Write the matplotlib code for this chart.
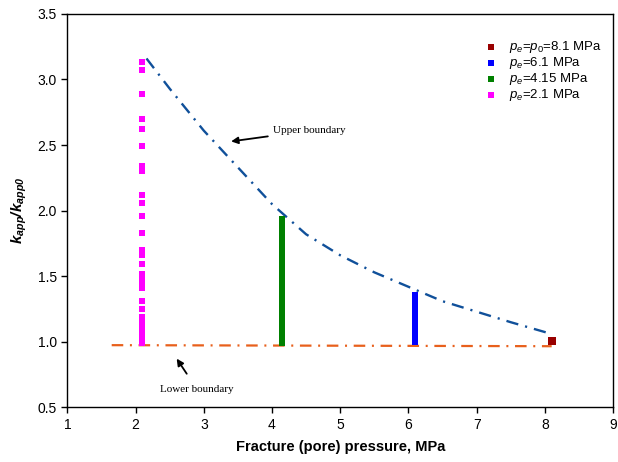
import numpy as np
import matplotlib
matplotlib.use('Agg')
import matplotlib.pyplot as plt

plt.rcParams['font.family'] = ['Liberation Sans', 'DejaVu Sans']
plt.rcParams['mathtext.fontset'] = 'custom'
plt.rcParams['mathtext.it'] = 'Liberation Sans:italic'
plt.rcParams['mathtext.bf'] = 'Liberation Sans:bold:italic'
plt.rcParams['mathtext.rm'] = 'Liberation Sans'

#=======================================================================================
# Data
#=======================================================================================

upper_x = [2.16, 2.5, 3.0, 3.5, 4.0, 4.5, 5.0, 5.5, 6.0, 6.5, 7.0, 7.5, 8.1]
upper_y = [3.16, 2.93, 2.61, 2.33, 2.05, 1.82, 1.66, 1.53, 1.42, 1.31, 1.23, 1.15, 1.06]

lower_x = [1.65, 8.1]
lower_y = [0.975, 0.967]

p21_y = [3.13, 3.07, 2.89, 2.70, 2.62, 2.49, 2.34, 2.30, 2.12, 2.06, 1.96, 1.83,
         1.70, 1.66, 1.59, 1.52, 1.48, 1.45, 1.41, 1.31, 1.25, 1.19, 1.16, 1.13,
         1.10, 1.07, 1.04, 1.01, 0.99]
p415_y = [1.94, 1.91, 1.88, 1.85, 1.82, 1.79, 1.76, 1.73, 1.70, 1.67, 1.64, 1.61,
          1.59, 1.56, 1.53, 1.50, 1.46, 1.43, 1.40, 1.37, 1.34, 1.31, 1.28, 1.25,
          1.22, 1.19, 1.16, 1.13, 1.10, 1.07, 1.04, 1.01, 0.99]
p61_y = [1.36, 1.33, 1.30, 1.27, 1.24, 1.21, 1.18, 1.15, 1.12, 1.09, 1.06, 1.03, 1.00]
p81_y = [1.005]

series = [
    (8.1, p81_y, '#990000', r'$p_e$=$p_0$=8.1 MPa', 34),
    (6.1, p61_y, '#0000ff', r'$p_e$=6.1 MPa', 24),
    (4.15, p415_y, '#008000', r'$p_e$=4.15 MPa', 24),
    (2.1, p21_y, '#ff00ff', r'$p_e$=2.1 MPa', 24),
]

#=======================================================================================
# Plot
#=======================================================================================

fig = plt.figure(figsize=(6.18, 4.62), dpi=100)
ax = fig.add_axes([0.109, 0.118, 0.883, 0.852])

ax.plot(upper_x, upper_y, color='#10509a', lw=1.7, ls=(0, (5.2, 3.0, 0.9, 3.0)), zorder=2)
ax.plot(lower_x, lower_y, color='#e8601c', lw=1.6, ls=(0, (5.2, 3.0, 0.9, 3.0)), zorder=2)

for px, ys, c, lab, sz in series:
    ax.scatter([px] * len(ys), ys, marker='s', s=sz, color=c, linewidths=0,
               label=lab, zorder=3)

ax.annotate('Upper boundary', xy=(3.36, 2.525), xytext=(4.02, 2.61),
            fontsize=8, family='Liberation Serif', va='center', ha='left',
            arrowprops=dict(arrowstyle='-|>', color='black', lw=1.3, mutation_scale=10))
ax.annotate('Lower boundary', xy=(2.58, 0.89), xytext=(2.9, 0.64),
            fontsize=8, family='Liberation Serif', va='center', ha='center',
            arrowprops=dict(arrowstyle='-|>', color='black', lw=1.3, mutation_scale=10,
                            shrinkA=7))

ax.set_xlim(1, 9)
ax.set_ylim(0.5, 3.5)
ax.set_xticks(np.arange(1, 10, 1))
ax.set_yticks(np.arange(0.5, 3.6, 0.5))
ax.set_yticklabels(['%.1f' % v for v in np.arange(0.5, 3.6, 0.5)])
ax.tick_params(direction='out', length=4, width=1, labelsize=10, colors='black')
for sp in ax.spines.values():
    sp.set_linewidth(1)

ax.set_xlabel('Fracture (pore) pressure, MPa', fontsize=10.5, fontweight='bold', labelpad=6)
ax.set_ylabel(r'$\mathbf{k_{app}/k_{app0}}$', fontsize=11, labelpad=6)

leg = ax.legend(loc='upper right', bbox_to_anchor=(0.993, 0.955), frameon=False, fontsize=9.5,
                handletextpad=0.8, labelspacing=0.0, markerscale=0.8, borderaxespad=0.2,
                handlelength=1.0, scatterpoints=1)
for h in leg.legend_handles:
    h.set_sizes([19])

plt.savefig('out.png', dpi=100)
plt.close()
